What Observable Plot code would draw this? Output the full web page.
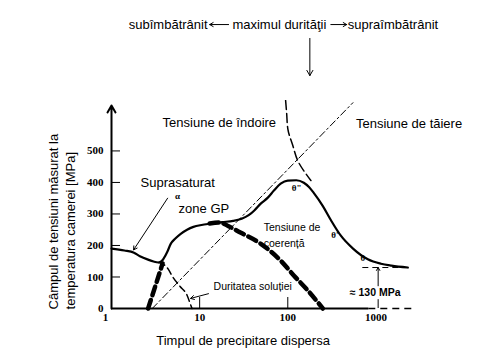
<!DOCTYPE html>
<html><head><meta charset="utf-8">
<script src="https://cdn.jsdelivr.net/npm/d3@7"></script>
<script src="https://cdn.jsdelivr.net/npm/@observablehq/plot@0.6"></script>
<style>body{margin:0;background:#fff}#chart svg{display:block}</style>
</head><body><div id="chart"></div>
<script>
// Yield strength (main solid curve)
const yieldTime = [1, 1.4, 1.8, 2.1, 2.6, 3.0, 3.4, 3.7, 3.9, 4.3, 4.7, 5.3, 6.1, 7.2, 8.5, 10.5, 13, 18, 24, 30, 36, 42, 49, 59, 70, 83, 100, 125, 152, 175, 197, 250, 309, 400, 550, 810, 1140, 1500, 2300];
const yieldStress = [190, 184, 177, 166, 155, 149, 146, 150, 158, 180, 205, 222, 237, 250, 259, 265, 269, 274, 278, 285, 296, 312, 332, 351, 375, 396, 406, 407, 399, 385, 367, 325, 280, 231, 190, 156, 142, 136, 130];
// Coherency stress (thick dashed), two visible pieces
const coherRiseTime = [2.6, 3.2, 3.8];
const coherRiseStress = [0, 78, 143];
const coherFallTime = [13, 17, 21, 29, 49, 83, 117, 169, 250];
const coherFallStress = [270, 273, 262, 241, 206, 152, 105, 57, 0];
// Solid-solution hardening (thin dashed)
const solTime = [3.4, 3.9, 4.4, 4.9, 6.0, 7.2, 7.9, 8.2];
const solStress = [146, 140, 125, 102, 70, 42, 12, 0];
// Shearing stress (dash-dot straight line)
const shearTime = [2.9, 548];
const shearStress = [0, 653];
// Bowing (Orowan) stress (dashed)
const bowTime = [94.5, 97, 100, 114, 133, 160, 183];
const bowStress = [660, 621, 571, 517, 463, 428, 406];
// Overaged plateau level
const plateauLevel = 130;
// Axes
const yTicks = [0, 100, 200, 300, 400, 500];
const xTicks = [1, 10, 100, 1000];

const zip = (xs, ys) => xs.map((x, i) => ({x, y: ys[i]}));
const sans = "Liberation Sans, Arial, Helvetica, sans-serif";
const serif = "Liberation Serif, Times New Roman, serif";

const chart = Plot.plot({
  width: 500, height: 353,
  marginLeft: 111, marginRight: 88, marginTop: 100, marginBottom: 45,
  x: {type: "log", domain: [1, 2600], axis: null},
  y: {domain: [0, 660], axis: null},
  style: {fontFamily: sans, background: "#fff", color: "#000"},
  marks: [
    // axes
    Plot.ruleY([0], {x1: 1, x2: 830, strokeWidth: 2}),
    Plot.ruleY([0], {x1: 830, x2: 2600, strokeWidth: 1.5, strokeDasharray: "7,5"}),
    Plot.arrow([0], {x1: 1, y1: 0, x2: 1, y2: 644, strokeWidth: 2, headLength: 6}),
    Plot.tickY(yTicks.slice(1), {y: d => d, insetRight: 292, strokeWidth: 1}),
    Plot.tickX([10, 100], {x: d => d, insetTop: 197, strokeWidth: 1}),
    Plot.axisY(yTicks, {label: null, tickSize: 0, tickPadding: 8, fontSize: 11, fontWeight: "bold", fontFamily: serif}),
    Plot.axisX(xTicks.slice(1), {label: null, tickSize: 0, tickPadding: 5, fontSize: 11, fontWeight: "bold", fontFamily: serif, tickFormat: d => String(d)}),
    Plot.axisX(xTicks.slice(0, 1), {label: null, tickSize: 0, tickPadding: 5, dx: -6, fontSize: 11, fontWeight: "bold", fontFamily: serif, tickFormat: d => String(d)}),

    // curves
    Plot.line(zip(shearTime, shearStress), {x: "x", y: "y", strokeWidth: 1, strokeDasharray: "7,3,2,3", clip: true}),
    Plot.line(zip(bowTime, bowStress), {x: "x", y: "y", strokeWidth: 1.5, strokeDasharray: "9,4", curve: "monotone-y", clip: true}),
    Plot.line(zip(solTime, solStress), {x: "x", y: "y", strokeWidth: 1.5, strokeDasharray: "7,4", curve: "monotone-x"}),
    Plot.line(zip(coherRiseTime, coherRiseStress), {x: "x", y: "y", strokeWidth: 4.5, strokeDasharray: "9,5", curve: "monotone-x"}),
    Plot.line(zip(coherFallTime, coherFallStress), {x: "x", y: "y", strokeWidth: 4.5, strokeDasharray: "9,5", curve: "monotone-x"}),
    Plot.line(zip(yieldTime, yieldStress), {x: "x", y: "y", strokeWidth: 2.2, curve: "monotone-x"}),

    // 130 MPa plateau indicator
    Plot.ruleY([plateauLevel], {x1: 710, x2: 2600, strokeWidth: 1, strokeDasharray: "6,4"}),
    Plot.arrow([0], {x1: 1060, y1: 72, x2: 1060, y2: plateauLevel, strokeWidth: 1, headLength: 5}),
    Plot.ruleX([1060], {y1: 0, y2: 28, strokeWidth: 1}),
    Plot.text(["≈ 130 MPa"], {x: 980, y: 51, fontSize: 10.5, fontWeight: "bold"}),

    // annotations
    Plot.text(["Tensiune de îndoire"], {x: 3.8, y: 590, textAnchor: "start", fontSize: 13}),
    Plot.text(["Tensiune de tăiere"], {x: 593, y: 587, textAnchor: "start", fontSize: 13}),
    Plot.text(["Suprasaturat"], {x: 2.135, y: 399, textAnchor: "start", fontSize: 13}),
    Plot.text(["α"], {x: 5.62, y: 356, fontSize: 9, fontWeight: "bold", fontFamily: serif}),
    Plot.arrow([0], {x1: 4.33, y1: 350, x2: 1.78, y2: 186, strokeWidth: 1, headLength: 6}),
    Plot.text(["zone GP"], {x: 5.77, y: 317, textAnchor: "start", fontSize: 13}),
    Plot.text(["Tensiune de"], {x: 53.4, y: 257, textAnchor: "start", fontSize: 10.5}),
    Plot.text(["coerență"], {x: 53.4, y: 206, textAnchor: "start", fontSize: 10.5}),
    Plot.text(["Duritatea soluției"], {x: 14.4, y: 70, textAnchor: "start", fontSize: 10.5}),
    Plot.arrow([0], {x1: 12.6, y1: 47, x2: 7.9, y2: 32, strokeWidth: 1, headLength: 6}),
    Plot.text(["θ\""], {x: 126, y: 381, fontSize: 9, fontWeight: "bold", fontFamily: serif}),
    Plot.text(["θ'"], {x: 343, y: 232, fontSize: 9, fontWeight: "bold", fontFamily: serif}),
    Plot.text(["θ"], {x: 711, y: 159, fontSize: 9, fontWeight: "bold", fontFamily: serif}),

    // header
    Plot.text(["subîmbătrânit"], {x: 12.3, y: 901, textAnchor: "end", fontSize: 13}),
    Plot.arrow([0], {x1: 21.3, y1: 901, x2: 13.0, y2: 901, strokeWidth: 1, headLength: 6}),
    Plot.text(["maximul durităţii"], {x: 80.2, y: 901, fontSize: 13}),
    Plot.arrow([0], {x1: 308, y1: 901, x2: 466, y2: 901, strokeWidth: 1, headLength: 6}),
    Plot.text(["supraîmbătrânit"], {x: 480, y: 901, textAnchor: "start", fontSize: 13}),
    Plot.arrow([0], {x1: 178, y1: 857, x2: 178, y2: 739, strokeWidth: 1, headLength: 9}),

    // axis titles
    Plot.text(["Timpul de precipitare dispersa"], {x: 31.1, y: -102, fontSize: 13}),
    Plot.text(["Câmpul de tensiuni măsurat la"], {x: 0.219, y: -3, rotate: -90, textAnchor: "start", fontSize: 13}),
    Plot.text(["temperatura camerei [MPa]"], {x: 0.342, y: -3, rotate: -90, textAnchor: "start", fontSize: 13})
  ]
});
document.getElementById("chart").appendChild(chart);
</script>
</body></html>
